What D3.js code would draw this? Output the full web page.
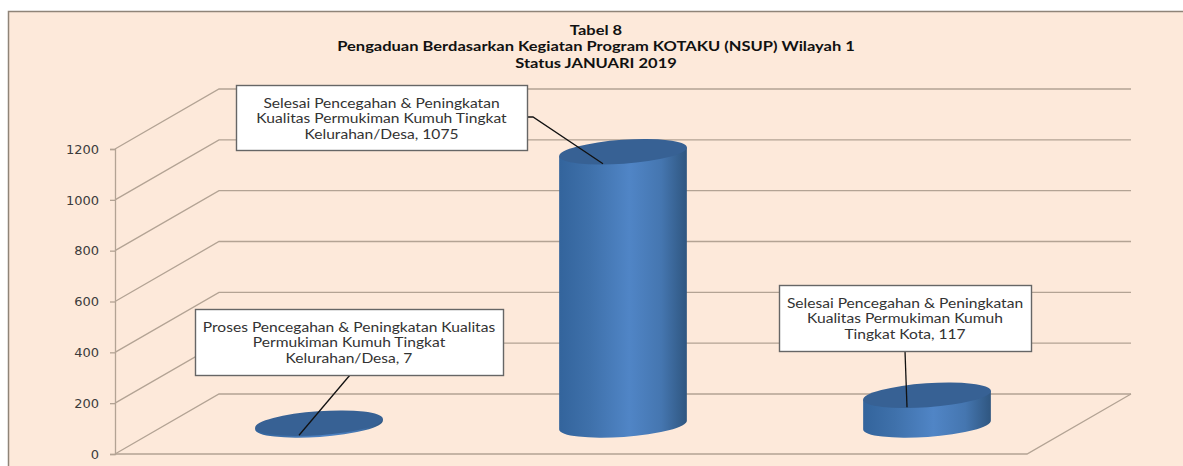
<!DOCTYPE html>
<html>
<head>
<meta charset="utf-8">
<script src="https://cdn.jsdelivr.net/npm/d3@7"></script>
<style>
  html, body { margin: 0; padding: 0; background: #fff; overflow: hidden; }
  text { font-family: Lato, sans-serif; }
</style>
</head>
<body>
<div id="chart"></div>
<script>
// data
var categories = ["Proses", "Selesai Kelurahan", "Selesai Kota"];
var values = [7, 1075, 117];
var yTicks = [0, 200, 400, 600, 800, 1000, 1200];
var titleLines = [
  "Tabel 8",
  "Pengaduan Berdasarkan Kegiatan Program KOTAKU (NSUP) Wilayah 1",
  "Status JANUARI 2019"
];
var labelLines = [
  ["Proses Pencegahan & Peningkatan Kualitas", "Permukiman Kumuh Tingkat", "Kelurahan/Desa, 7"],
  ["Selesai Pencegahan & Peningkatan", "Kualitas Permukiman Kumuh Tingkat", "Kelurahan/Desa, 1075"],
  ["Selesai Pencegahan & Peningkatan", "Kualitas Permukiman Kumuh", "Tingkat Kota, 117"]
];

var width = 1183, height = 466;

var svg = d3.select("#chart").append("svg")
  .attr("width", width)
  .attr("height", height)
  .style("display", "block");

// chart area background
svg.append("rect")
  .attr("x", 8.5).attr("y", 11.5)
  .attr("width", width).attr("height", height)
  .attr("fill", "#fde9da")
  .attr("stroke", "#8f8478")
  .attr("stroke-width", 1.5);

// scales, the floor is skewed back by depthX / depthY
var x = d3.scaleBand().domain(categories).range([115, 1027]);
var y = d3.scaleLinear().domain([0, 1200]).range([454, 149]);
var depthX = 104, depthY = -60;

var gridColor = "#b3a394";

// gridlines: side wall then back wall
svg.append("g").selectAll("path")
  .data(yTicks)
  .enter()
  .append("path")
    .attr("fill", "none")
    .attr("stroke", gridColor)
    .attr("stroke-width", 1.3)
    .attr("d", function(d) {
      return "M115," + y(d) + "L" + (115 + depthX) + "," + (y(d) + depthY) + "L" + (1027 + depthX) + "," + (y(d) + depthY);
    });

// floor front and right edge
svg.append("path")
  .attr("fill", "none")
  .attr("stroke", gridColor)
  .attr("stroke-width", 1.3)
  .attr("d", "M115," + y(0) + "L1027," + y(0) + "L" + (1027 + depthX) + "," + (y(0) + depthY));

// Y axis
var yAxis = d3.axisLeft(y)
  .tickValues(yTicks)
  .tickSize(5)
  .tickPadding(11)
  .tickFormat(d3.format("d"));

var axisG = svg.append("g")
  .attr("transform", "translate(115,0)")
  .call(yAxis);
axisG.selectAll("path, line").attr("stroke", gridColor).attr("stroke-width", 1.3);
axisG.selectAll("text")
  .style("font-family", "'DejaVu Sans', sans-serif")
  .style("font-size", "13px")
  .attr("fill", "#3c3c3c");

// cylinder shading
var defs = svg.append("defs");
var grad = defs.append("linearGradient").attr("id", "side");
grad.append("stop").attr("offset", "0%").attr("stop-color", "#33649c");
grad.append("stop").attr("offset", "25%").attr("stop-color", "#3f71ab");
grad.append("stop").attr("offset", "55%").attr("stop-color", "#5085c6");
grad.append("stop").attr("offset", "80%").attr("stop-color", "#4576b0");
grad.append("stop").attr("offset", "100%").attr("stop-color", "#2f5680");

var rx = 64, ry = 12, tilt = 4;
var dx = rx * Math.cos(tilt * Math.PI / 180), dy = rx * Math.sin(tilt * Math.PI / 180);

function barX(i) { return x(categories[i]) + x.bandwidth() / 2 + depthX / 2; }
function barY(d) { return y(d) + depthY / 2 + 1; }

// Bars
var bars = svg.append("g").selectAll("g")
  .data(values)
  .enter()
  .append("g");

bars.append("path")
  .attr("fill", "url(#side)")
  .attr("d", function(d, i) {
    var c = barX(i), t = barY(d), b = barY(0);
    return "M" + (c - dx) + "," + (t + dy) +
      "L" + (c - dx) + "," + (b + dy) +
      "A" + rx + "," + ry + " " + (-tilt) + " 0 0 " + (c + dx) + "," + (b - dy) +
      "L" + (c + dx) + "," + (t - dy) + "Z";
  });

bars.append("ellipse")
  .attr("rx", rx)
  .attr("ry", ry)
  .attr("fill", "#376194")
  .attr("transform", function(d, i) {
    return "translate(" + barX(i) + "," + barY(d) + ")rotate(" + (-tilt) + ")";
  });

// callouts: box position by hand, leader end follows the bar
var boxes = [
  { x: 195, y: 309, w: 308, h: 66, from: [350, 375], elbow: null },
  { x: 236, y: 85, w: 291, h: 65, from: [527, 117], elbow: [533, 117] },
  { x: 779, y: 285, w: 252, h: 66, from: [905, 351], elbow: null }
];

var callouts = svg.append("g").selectAll("g")
  .data(boxes)
  .enter()
  .append("g");

callouts.append("path")
  .attr("fill", "none")
  .attr("stroke", "#111")
  .attr("stroke-width", 1.3)
  .attr("d", function(b, i) {
    var pts = [b.from];
    if (b.elbow) pts.push(b.elbow);
    pts.push([barX(i) - 20, barY(values[i]) + 12]);
    return d3.line()(pts);
  });

callouts.append("rect")
  .attr("x", function(b) { return b.x + 0.5; })
  .attr("y", function(b) { return b.y + 0.5; })
  .attr("width", function(b) { return b.w; })
  .attr("height", function(b) { return b.h; })
  .attr("fill", "#fff")
  .attr("stroke", "#666")
  .attr("stroke-width", 1.4);

// the picture is stretched sideways, so the text is too
callouts.each(function(b, i) {
  d3.select(this).selectAll("text")
    .data(labelLines[i])
    .enter()
    .append("text")
      .attr("transform", function(d, j) {
        return "translate(" + (b.x + b.w / 2) + "," + (b.y + 22.5 + j * 15.7) + ")scale(1.2,1)";
      })
      .attr("text-anchor", "middle")
      .attr("fill", "#333")
      .style("font-size", "13px")
      .text(function(d) { return d; });
});

// title
svg.append("g").selectAll("text")
  .data(titleLines)
  .enter()
  .append("text")
    .attr("transform", function(d, i) {
      return "translate(596," + (35 + i * 16.3) + ")scale(1.27,1)";
    })
    .attr("text-anchor", "middle")
    .attr("fill", "#111")
    .style("font-size", "13px")
    .style("font-weight", "bold")
    .text(function(d) { return d; });
</script>
</body>
</html>
